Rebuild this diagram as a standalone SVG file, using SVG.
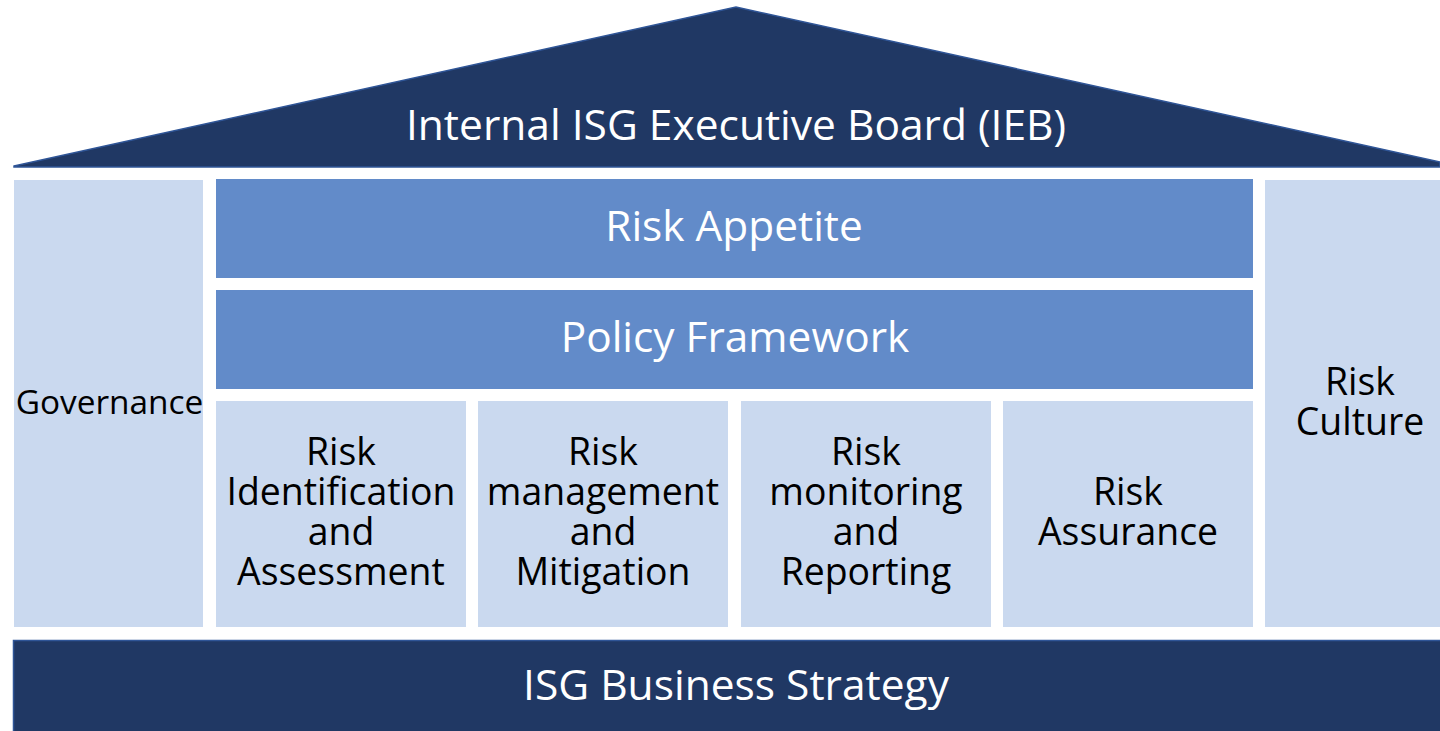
<svg xmlns="http://www.w3.org/2000/svg" width="1440" height="731" viewBox="0 0 1440 731">
<style>
.dark{fill:#203864;stroke:#2f5597;stroke-width:1.5}
.mid{fill:#628bc9}
.light{fill:#cad9ef}
text{font-family:"Open Sans","Noto Sans","Liberation Sans",sans-serif;text-anchor:middle}
.w{fill:#ffffff}
.k{fill:#000000}
.box{font-size:37.4px}
</style>
<rect width="1440" height="731" fill="#ffffff"/>
<g id="roof">
<polygon class="dark" points="14,166 736,7 1440,162 1440,167 14,167"/>
<text class="w" x="736" y="140" font-size="42.5">Internal ISG Executive Board (IEB)</text>
</g>
<g id="governance">
<rect class="light" x="14" y="180" width="189" height="447"/>
<text class="k" x="109.5" y="414" font-size="33.4">Governance</text>
</g>
<g id="risk-appetite">
<rect class="mid" x="216" y="179" width="1037" height="99"/>
<text class="w" x="734" y="241" font-size="42.4">Risk Appetite</text>
</g>
<g id="policy-framework">
<rect class="mid" x="216" y="290" width="1037" height="99"/>
<text class="w" x="735" y="352" font-size="42.4">Policy Framework</text>
</g>
<g id="risk-identification">
<rect class="light" x="216" y="401" width="250" height="226"/>
<text class="k box"><tspan x="341" y="465">Risk</tspan><tspan x="341" y="505">Identification</tspan><tspan x="341" y="545">and</tspan><tspan x="341" y="585">Assessment</tspan></text>
</g>
<g id="risk-management">
<rect class="light" x="478" y="401" width="250" height="226"/>
<text class="k box"><tspan x="603" y="465">Risk</tspan><tspan x="603" y="505">management</tspan><tspan x="603" y="545">and</tspan><tspan x="603" y="585">Mitigation</tspan></text>
</g>
<g id="risk-monitoring">
<rect class="light" x="741" y="401" width="250" height="226"/>
<text class="k box"><tspan x="866" y="465">Risk</tspan><tspan x="866" y="505">monitoring</tspan><tspan x="866" y="545">and</tspan><tspan x="866" y="585">Reporting</tspan></text>
</g>
<g id="risk-assurance">
<rect class="light" x="1003" y="401" width="250" height="226"/>
<text class="k box"><tspan x="1128" y="505">Risk</tspan><tspan x="1128" y="545">Assurance</tspan></text>
</g>
<g id="risk-culture">
<rect class="light" x="1265" y="180" width="180" height="447"/>
<text class="k box"><tspan x="1360" y="395">Risk</tspan><tspan x="1360" y="435">Culture</tspan></text>
</g>
<g id="business-strategy">
<rect class="dark" x="13.5" y="640.5" width="1430" height="95"/>
<text class="w" x="736" y="700" font-size="42.5">ISG Business Strategy</text>
</g>
<g id="connectors"></g>
</svg>
